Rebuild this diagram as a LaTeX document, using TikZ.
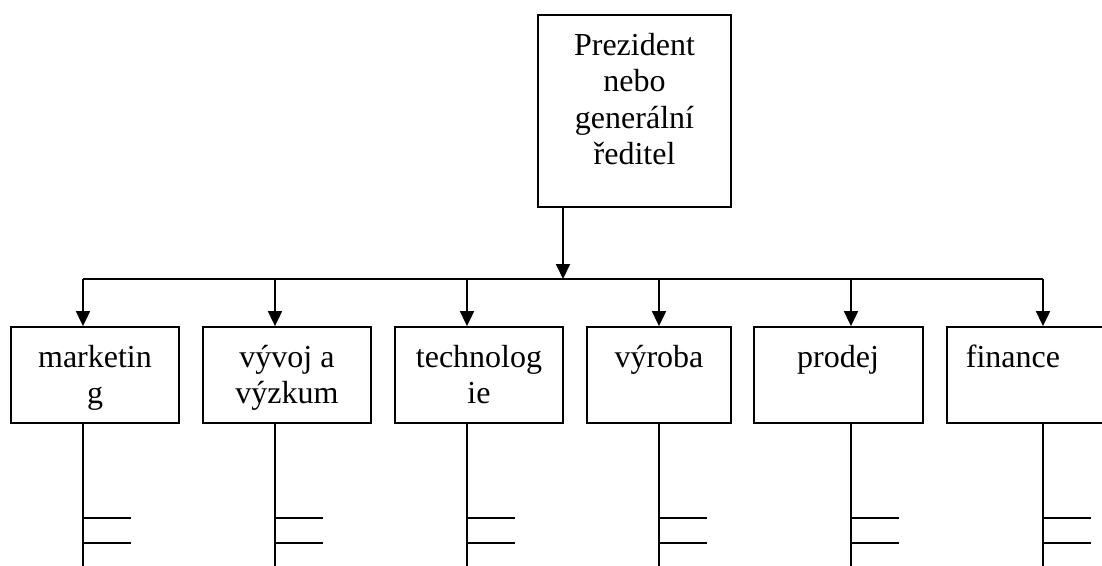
\documentclass[tikz,border=0pt]{standalone}
\usepackage{fontspec}
\setmainfont{Liberation Serif}
\usetikzlibrary{arrows.meta}
\tikzset{
  box/.style={draw, line width=1.8pt, rectangle, inner sep=0pt, minimum height=96pt},
  lbl/.style={align=center, anchor=base, inner sep=0pt, font=\fontsize{32}{36.5}\selectfont},
  arr/.style={line width=1.8pt, -{Triangle[length=15pt,width=14pt]}},
  ln/.style={line width=1.8pt}
}
\begin{document}
\begin{tikzpicture}[x=1pt,y=-1pt]
\useasboundingbox (0,0) rectangle (1102,565);
\clip (0,0) rectangle (1102,565);
% president
\node[box, minimum width=193pt, minimum height=192pt] (P) at (634.5,111) {};
\node[lbl] (Pt) at (634.5,164.5) {Prezident\\nebo\\generální\\ředitel};
% departments
\node[box, minimum width=168pt] (m) at (95,375) {};
\node[box, minimum width=168pt] (v) at (287,375) {};
\node[box, minimum width=168pt] (t) at (479,375) {};
\node[box, minimum width=144pt] (y) at (659,375) {};
\node[box, minimum width=169pt] (p) at (838.5,375) {};
\node[box, minimum width=168pt] (f) at (1031,375) {};
\node[lbl] (mt) at (95,403.5) {marketin\\g};
\node[lbl] (vt) at (287,403.5) {vývoj a\\výzkum};
\node[lbl] (tt) at (479,403.5) {technolog\\ie};
\node[lbl] (yt) at (659,367) {výroba};
\node[lbl] (pt) at (838,367) {prodej};
\node[lbl] (ft) at (1013,367) {finance};
% bus
\coordinate (J) at (563,279);
\coordinate (c1) at (83,279);
\coordinate (c2) at (275,279);
\coordinate (c3) at (467,279);
\coordinate (c4) at (659,279);
\coordinate (c5) at (851,279);
\coordinate (c6) at (1043,279);
\coordinate (bot) at (0,566);
\draw[ln] (c1) -- (c6);
\draw[arr] (P.south -| J) -- (J);
\foreach \c/\b in {c1/m,c2/v,c3/t,c4/y,c5/p,c6/f}{
  \draw[arr] (\c) -- (\c |- \b.north);
  \draw[ln] (\c |- \b.south) -- (\c |- bot);
}
\foreach \c in {c1,c2,c3,c4,c5,c6}{
  \draw[ln] (\c |- 0,518) -- ++(48,0);
  \draw[ln] (\c |- 0,543) -- ++(48,0);
}
\end{tikzpicture}
\end{document}
